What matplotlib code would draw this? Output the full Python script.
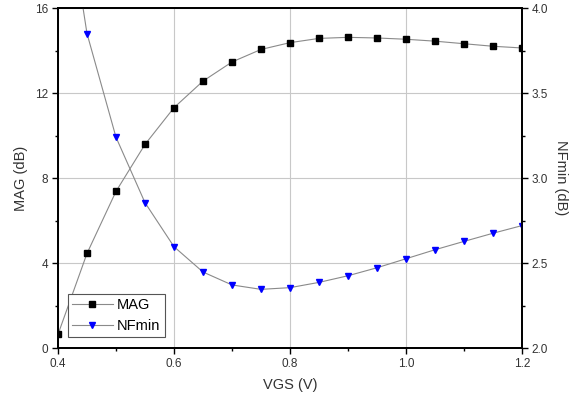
import matplotlib
matplotlib.use("Agg")
import matplotlib.pyplot as plt
from matplotlib.ticker import MultipleLocator

plt.rcParams['font.family'] = ['Liberation Sans', 'DejaVu Sans']

vgs = [0.40, 0.45, 0.50, 0.55, 0.60, 0.65, 0.70, 0.75, 0.80,
       0.85, 0.90, 0.95, 1.00, 1.05, 1.10, 1.15, 1.20]
mag = [0.64, 4.45, 7.37, 9.58, 11.31, 12.56, 13.46, 14.05, 14.37,
       14.57, 14.62, 14.59, 14.53, 14.44, 14.32, 14.20, 14.12]
nfmin = [4.95, 3.85, 3.24, 2.855, 2.596, 2.447, 2.371, 2.345, 2.355,
         2.386, 2.425, 2.472, 2.525, 2.578, 2.627, 2.675, 2.72]

fig = plt.figure(figsize=(5.87, 3.93), dpi=100)
ax = fig.add_axes([0.0988, 0.1145, 0.7904, 0.8651])
ax2 = ax.twinx()

line_kw = dict(color="#8a8a8a", lw=0.8, markersize=5)
l1, = ax.plot(vgs, mag, marker="s", mfc="black", mec="black", label="MAG", **line_kw)
l2, = ax2.plot(vgs, nfmin, marker="v", mfc="#0000ff", mec="#0000ff", label="NFmin",
               **line_kw)

ax.set_xlim(0.4, 1.2)
ax.set_ylim(0, 16)
ax2.set_ylim(2.0, 4.0)

ax.xaxis.set_major_locator(MultipleLocator(0.2))
ax.xaxis.set_minor_locator(MultipleLocator(0.1))
ax.yaxis.set_major_locator(MultipleLocator(4))
ax.yaxis.set_minor_locator(MultipleLocator(2))
ax2.yaxis.set_major_locator(MultipleLocator(0.5))
ax2.yaxis.set_minor_locator(MultipleLocator(0.25))

ax.xaxis.set_major_formatter(plt.FuncFormatter(lambda v, p: f"{v:.1f}"))
ax2.yaxis.set_major_formatter(plt.FuncFormatter(lambda v, p: f"{v:.1f}"))

ax.grid(True, which="major", color="#c8c8c8", lw=0.8)

for a in (ax, ax2):
    a.tick_params(which="major", direction="out", length=4, width=1, labelsize=8.5,
                  colors="black", labelcolor="#333333", pad=3)
    a.tick_params(which="minor", direction="out", length=2.5, width=1)
    for s in a.spines.values():
        s.set_linewidth(1.3)

ax.set_xlabel("VGS (V)", fontsize=10.5, color="#333333", labelpad=6)
ax.set_ylabel("MAG (dB)", fontsize=10.5, color="#333333", labelpad=5)
ax2.set_ylabel("NFmin (dB)", fontsize=10.5, color="#333333", rotation=270, labelpad=14)

leg = ax.legend(handles=[l1, l2], loc="lower left", bbox_to_anchor=(0.005, 0.01),
                fontsize=10.5, frameon=True, fancybox=False, edgecolor="#555555",
                handlelength=2.8, borderpad=0.3, labelspacing=0.45, handletextpad=0.3,
                framealpha=1)
leg.get_frame().set_linewidth(0.8)

fig.savefig("out.png", dpi=100)
